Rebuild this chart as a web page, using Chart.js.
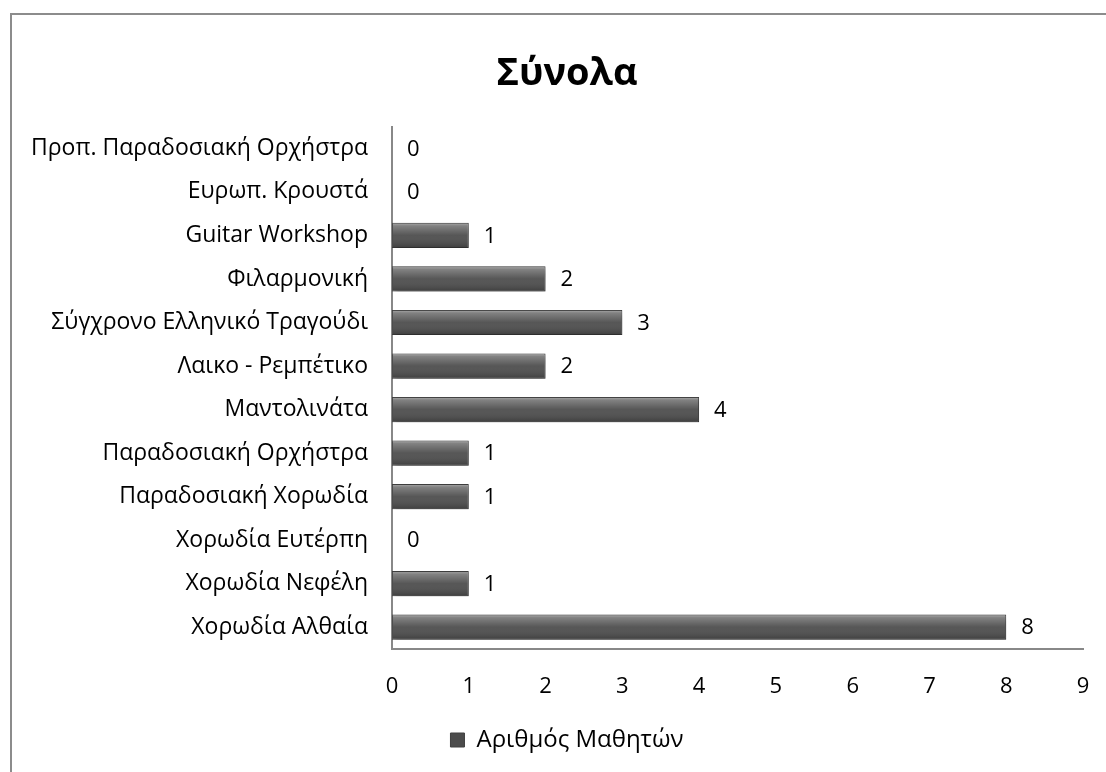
<!DOCTYPE html>
<html>
<head>
<meta charset="utf-8">
<script src="https://cdn.jsdelivr.net/npm/chart.js@4/dist/chart.umd.min.js"></script>
<style>
    html, body { margin: 0; padding: 0; background: #fff; overflow: hidden; }
    #wrap { width: 1106px; height: 772px; position: relative; overflow: hidden; }
</style>
</head>
<body>
<!-- the chart box runs a little past the right edge of the window, as in the source picture -->
<div id="wrap"><canvas id="synolaChart" width="1134" height="772"></canvas></div>
<script>
const categories = [
    "Προπ. Παραδοσιακή Ορχήστρα",
    "Ευρωπ. Κρουστά",
    "Guitar Workshop",
    "Φιλαρμονική",
    "Σύγχρονο Ελληνικό Τραγούδι",
    "Λαικο - Ρεμπέτικο",
    "Μαντολινάτα",
    "Παραδοσιακή Ορχήστρα",
    "Παραδοσιακή Χορωδία",
    "Χορωδία Ευτέρπη",
    "Χορωδία Νεφέλη",
    "Χορωδία Αλθαία"
];
const students = [0, 0, 1, 2, 3, 2, 4, 1, 1, 0, 1, 8];
const seriesLabel = "Αριθμός Μαθητών";
const chartTitle = "Σύνολα";

const fontFamily = "'Open Sans', 'DejaVu Sans', sans-serif";

// frame round the whole chart (only left and top edges are visible)
const framePlugin = {
    id: "frame",
    beforeDraw(chart) {
        const c = chart.ctx;
        c.save();
        c.strokeStyle = "#8c8c8c";
        c.lineWidth = 2;
        c.strokeRect(11, 14, chart.width + 20, chart.height + 20);
        c.restore();
    }
};

// shadow under the bars
const shadowPlugin = {
    id: "barShadow",
    beforeDatasetsDraw(chart) {
        const c = chart.ctx;
        c.save();
        c.shadowColor = "rgba(0,0,0,0.35)";
        c.shadowBlur = 6;
        c.shadowOffsetX = 2;
        c.shadowOffsetY = 3;
    },
    afterDatasetsDraw(chart) {
        chart.ctx.restore();
    }
};

// light bevel on top of each bar + value label at its end
const barDecor = {
    id: "barDecor",
    afterDatasetsDraw(chart) {
        const c = chart.ctx;
        const meta = chart.getDatasetMeta(0);
        c.save();
        meta.data.forEach((bar) => {
            const w = bar.x - bar.base;
            if (w <= 0) return;
            const top = bar.y - bar.height / 2;
            const g = c.createLinearGradient(0, top, 0, top + bar.height);
            g.addColorStop(0, "rgba(255,255,255,0.55)");
            g.addColorStop(0.12, "rgba(255,255,255,0.3)");
            g.addColorStop(0.5, "rgba(255,255,255,0.06)");
            g.addColorStop(1, "rgba(0,0,0,0.2)");
            c.fillStyle = g;
            c.fillRect(bar.base + 1, top + 1, w - 2, bar.height - 2);
        });
        c.font = "22px " + fontFamily;
        c.fillStyle = "#000";
        c.textAlign = "left";
        c.textBaseline = "middle";
        meta.data.forEach((bar, i) => {
            c.fillText(String(students[i]), bar.x + 15, bar.y + 1);
        });
        c.restore();
    }
};

const ctx = document.getElementById("synolaChart").getContext("2d");

new Chart(ctx, {
    type: "bar",
    data: {
        labels: categories,
        datasets: [{
            label: seriesLabel,
            data: students,
            backgroundColor: "#4c4c4c",
            borderColor: "#404040",
            borderWidth: 1,
            barPercentage: 0.58,
            categoryPercentage: 1.0
        }]
    },
    options: {
        indexAxis: "y",
        responsive: false,
        animation: false,
        layout: { padding: { left: 0, right: 0, top: 20, bottom: 10 } },
        plugins: {
            title: {
                display: true,
                text: chartTitle,
                color: "#000",
                font: { family: fontFamily, size: 38, weight: "bold" },
                padding: { top: 31, bottom: 30 }
            },
            legend: {
                position: "bottom",
                labels: {
                    color: "#000",
                    font: { family: fontFamily, size: 24 },
                    boxWidth: 14,
                    boxHeight: 14,
                    padding: 10
                }
            },
            tooltip: { enabled: false }
        },
        scales: {
            x: {
                min: 0,
                max: 9,
                ticks: {
                    stepSize: 1,
                    color: "#000",
                    padding: 17,
                    font: { family: fontFamily, size: 22 }
                },
                grid: { display: false },
                border: { display: true, color: "#888", width: 2 },
                afterFit(scale) {
                    scale.height = 69;
                    scale.paddingLeft = 0;
                    scale.paddingRight = 51;
                }
            },
            y: {
                ticks: {
                    color: "#000",
                    padding: 16,
                    font: { family: fontFamily, size: 23 }
                },
                grid: { display: false },
                border: { display: true, color: "#888", width: 2 },
                afterFit(scale) { scale.width = 392; }
            }
        }
    },
    plugins: [framePlugin, shadowPlugin, barDecor]
});
</script>
</body>
</html>
